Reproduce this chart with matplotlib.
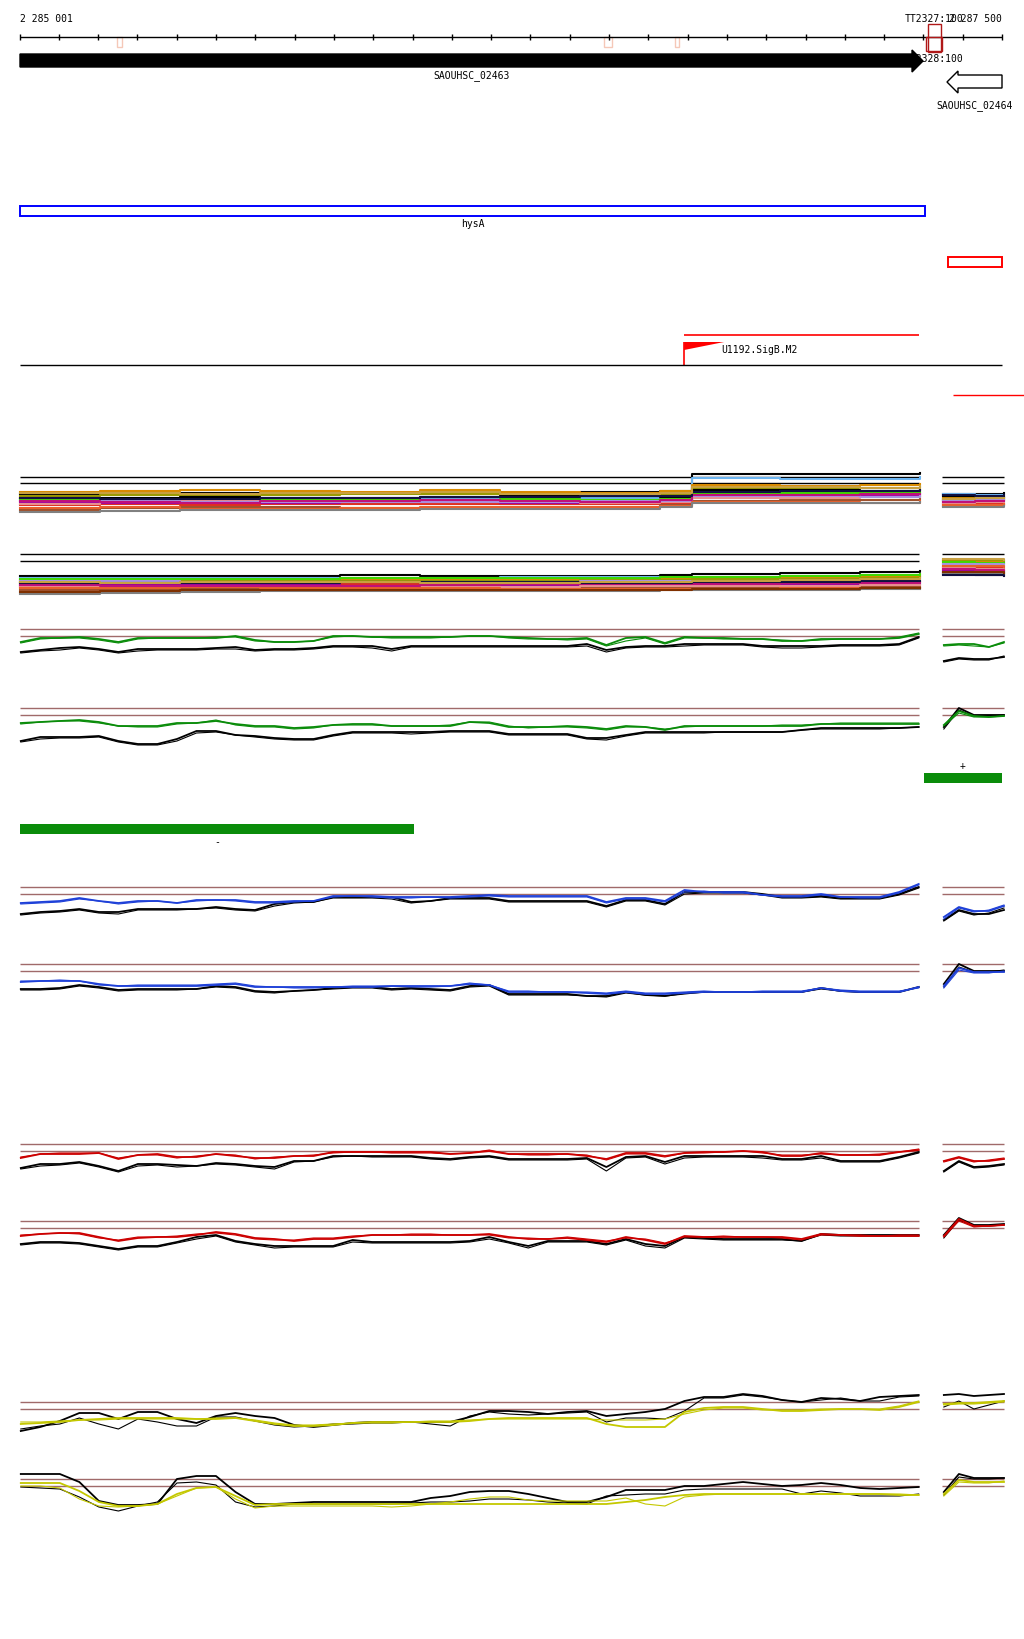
import matplotlib.pyplot as plt
from matplotlib.patches import Rectangle, Polygon
import numpy as np

plt.rcParams['font.family'] = ['DejaVu Sans Mono']

W, H = 1024, 1640
VIEW_START, VIEW_END = 2285001, 2287500
BP_PER_PX = (VIEW_END - VIEW_START) / 982.0
X0 = VIEW_START - 20 * BP_PER_PX
X1 = X0 + W * BP_PER_PX

# ---------------- annotation data ----------------
gene_names = ["SAOUHSC_02463", "SAOUHSC_02464"]
gene_start = [2282790, 2287360]
gene_end = [2287299, 2288150]
gene_strand = ["+", "-"]

cds_name = "hysA"
cds_start, cds_end = 2282790, 2287304

term_names = ["TT2327:100", "TT2328:100"]
term_start = [2287312, 2287307]
term_end = [2287345, 2287348]

mark_start = [2285248, 2286487, 2286668]
mark_end = [2285260, 2286507, 2286678]

promoter_name = "U1192.SigB.M2"
promoter_start, promoter_end = 2286691, 2287289

red_box_start, red_box_end = 2287363, 2287500
red_line_start = 2287376

strand_bar_start = [2287301, 2285001]
strand_bar_end = [2287500, 2286004]
strand_bar_sign = ["+", "-"]

# ---------------- signal data ----------------
# bin centres of the coverage tracks (left block) and the small right block
GRID = np.linspace(2285003, 2287288, 47)
MINI = np.linspace(2287352, 2287505, 5)

# depth below upper threshold line (px-like units, larger = lower)
green1 = [[13, 9, 9, 8, 10, 13, 9, 9, 9, 9, 9, 7, 11, 13, 13, 12, 7, 7, 8, 8, 8, 8, 8, 7, 7, 8, 9, 10, 10, 9, 16, 9, 8, 14, 8, 9, 9, 10, 10, 12, 12, 10, 10, 10, 10, 9, 5],
          [14, 10, 9, 9, 11, 14, 10, 9, 9, 9, 8, 8, 12, 13, 13, 12, 8, 7, 8, 9, 9, 9, 8, 7, 7, 9, 10, 10, 11, 10, 17, 12, 9, 15, 9, 9, 10, 10, 10, 11, 12, 11, 10, 10, 10, 8, 4]]
green1_black = [[23, 21, 19, 18, 20, 23, 20, 20, 20, 20, 19, 18, 21, 20, 20, 19, 17, 17, 17, 20, 17, 17, 17, 17, 17, 17, 17, 17, 17, 15, 21, 18, 17, 17, 15, 15, 15, 15, 17, 17, 17, 17, 16, 16, 16, 15, 8],
                [24, 22, 21, 19, 21, 24, 22, 21, 21, 21, 20, 20, 22, 21, 21, 20, 18, 18, 19, 22, 18, 18, 18, 18, 18, 18, 18, 18, 18, 17, 23, 19, 18, 18, 17, 16, 16, 16, 18, 19, 19, 18, 17, 17, 17, 16, 9]]
green1_mini = [[16, 15, 15, 18, 13], [17, 16, 17, 18, 14]]
green1_mini_black = [[32, 29, 30, 30, 28], [33, 30, 31, 31, 27]]

green2 = [[15, 14, 13, 12, 14, 18, 18, 18, 15, 15, 13, 16, 18, 18, 20, 19, 17, 16, 16, 18, 18, 18, 18, 14, 15, 19, 19, 19, 18, 19, 21, 18, 19, 22, 18, 18, 18, 18, 18, 18, 18, 16, 16, 16, 16, 16, 16],
          [16, 14, 13, 13, 15, 18, 19, 19, 16, 15, 12, 17, 19, 19, 21, 20, 17, 17, 17, 18, 18, 18, 17, 14, 14, 18, 20, 19, 19, 20, 22, 19, 19, 21, 19, 18, 18, 18, 18, 17, 17, 16, 15, 15, 15, 15, 15]]
green2_black = [[33, 29, 29, 29, 28, 33, 36, 36, 31, 23, 23, 27, 28, 30, 31, 31, 27, 24, 24, 24, 24, 24, 23, 23, 23, 26, 26, 26, 26, 30, 30, 27, 24, 24, 24, 24, 24, 24, 24, 24, 22, 20, 20, 20, 20, 20, 19],
                [34, 31, 30, 30, 29, 34, 37, 37, 33, 25, 24, 27, 29, 31, 32, 32, 28, 25, 25, 25, 26, 25, 24, 24, 24, 27, 27, 27, 27, 31, 32, 28, 25, 25, 25, 25, 24, 24, 24, 24, 22, 21, 21, 21, 21, 20, 19]]
green2_mini = [[17, 3, 8, 9, 8], [18, 5, 9, 9, 8]]
green2_mini_black = [[19, 0, 7, 7, 7], [21, 2, 8, 8, 7]]

blue1 = [[16, 15, 14, 11, 14, 16, 14, 14, 16, 13, 13, 13, 15, 15, 14, 14, 9, 9, 9, 10, 10, 10, 10, 9, 8, 9, 9, 9, 9, 9, 15, 11, 11, 14, 3, 5, 5, 5, 8, 9, 9, 7, 10, 10, 10, 5, -3],
         [17, 16, 15, 12, 14, 17, 15, 14, 16, 14, 13, 14, 16, 16, 15, 14, 10, 9, 10, 11, 11, 10, 11, 10, 9, 10, 10, 10, 10, 10, 16, 12, 12, 15, 5, 4, 6, 6, 8, 10, 10, 8, 10, 11, 11, 6, -2]]
blue1_black = [[27, 25, 24, 22, 25, 25, 22, 22, 22, 22, 20, 22, 23, 17, 15, 15, 10, 10, 10, 10, 15, 14, 11, 11, 11, 14, 14, 14, 14, 14, 19, 13, 13, 17, 5, 5, 5, 5, 7, 10, 10, 9, 11, 11, 11, 7, 0],
               [28, 26, 25, 23, 26, 27, 23, 23, 23, 22, 21, 23, 24, 19, 16, 15, 11, 11, 11, 12, 16, 14, 12, 12, 12, 15, 15, 15, 15, 15, 20, 14, 14, 18, 7, 6, 6, 6, 8, 11, 11, 10, 12, 12, 12, 8, 1]]
blue1_mini = [[30, 20, 24, 24, 19], [32, 21, 25, 23, 18]]
blue1_mini_black = [[33, 23, 27, 27, 23], [34, 24, 28, 26, 21]]

blue2 = [[18, 17, 17, 17, 20, 22, 22, 22, 22, 22, 21, 20, 23, 23, 23, 23, 23, 23, 23, 22, 22, 22, 22, 20, 21, 28, 28, 28, 28, 29, 30, 28, 30, 30, 29, 28, 28, 28, 28, 28, 28, 24, 27, 28, 28, 28, 23],
         [17, 17, 16, 17, 21, 22, 21, 21, 21, 21, 20, 19, 22, 23, 24, 24, 23, 22, 22, 22, 23, 23, 22, 19, 21, 27, 27, 28, 28, 28, 29, 27, 29, 29, 28, 27, 28, 28, 27, 27, 27, 24, 26, 27, 27, 27, 24]]
blue2_black = [[25, 25, 24, 21, 23, 26, 25, 25, 25, 25, 22, 23, 27, 28, 27, 26, 24, 23, 23, 25, 24, 25, 26, 22, 21, 30, 30, 30, 30, 32, 32, 28, 31, 32, 29, 28, 28, 28, 28, 28, 28, 24, 27, 28, 28, 28, 23],
               [26, 26, 25, 22, 24, 27, 26, 26, 26, 25, 23, 24, 28, 29, 27, 26, 25, 24, 24, 26, 25, 26, 27, 23, 22, 31, 31, 31, 31, 32, 33, 29, 31, 32, 30, 28, 28, 28, 28, 28, 28, 25, 27, 28, 28, 28, 23]]
blue2_mini = [[22, 4, 8, 8, 8], [24, 6, 9, 9, 7]]
blue2_mini_black = [[20, 0, 7, 7, 7], [23, 3, 8, 8, 6]]

red1 = [[14, 10, 10, 10, 9, 15, 11, 10, 13, 13, 10, 12, 14, 14, 12, 12, 8, 8, 8, 8, 8, 8, 10, 9, 7, 10, 10, 10, 10, 12, 15, 9, 9, 12, 9, 8, 8, 7, 8, 12, 12, 9, 11, 11, 11, 8, 6],
        [13, 10, 9, 9, 9, 14, 11, 11, 14, 12, 10, 11, 15, 13, 12, 11, 9, 8, 8, 9, 9, 9, 10, 9, 6, 10, 11, 11, 10, 11, 16, 10, 10, 13, 9, 9, 8, 7, 9, 11, 11, 10, 11, 11, 10, 8, 5]]
red1_black = [[24, 20, 20, 18, 22, 27, 20, 20, 21, 22, 19, 20, 22, 23, 17, 17, 12, 12, 12, 12, 12, 14, 15, 13, 12, 15, 15, 15, 15, 14, 23, 13, 12, 18, 12, 12, 12, 12, 12, 15, 15, 12, 17, 17, 17, 13, 8],
              [25, 22, 21, 19, 23, 28, 22, 21, 23, 22, 20, 21, 23, 25, 18, 17, 13, 12, 13, 13, 13, 15, 16, 14, 13, 16, 16, 16, 16, 15, 27, 14, 13, 20, 14, 13, 13, 13, 14, 16, 16, 14, 18, 18, 18, 14, 9]]
red1_mini = [[17, 13, 17, 17, 15], [18, 14, 18, 16, 14]]
red1_mini_black = [[27, 17, 23, 22, 20], [28, 18, 24, 23, 21]]

red2 = [[15, 13, 12, 12, 16, 20, 17, 16, 16, 14, 11, 13, 17, 18, 20, 18, 18, 16, 14, 14, 14, 14, 14, 14, 13, 16, 18, 18, 17, 19, 21, 16, 19, 23, 15, 16, 16, 16, 16, 16, 18, 13, 14, 15, 15, 15, 15],
        [14, 13, 12, 13, 17, 19, 16, 16, 15, 13, 12, 14, 18, 19, 19, 17, 17, 15, 14, 14, 13, 13, 14, 14, 14, 17, 17, 18, 16, 18, 20, 17, 18, 22, 16, 16, 15, 16, 16, 17, 19, 14, 14, 14, 15, 14, 14]]
red2_black = [[23, 21, 21, 22, 25, 28, 25, 25, 21, 16, 14, 20, 23, 25, 25, 25, 25, 19, 21, 21, 21, 21, 21, 20, 16, 21, 25, 20, 20, 20, 23, 18, 23, 25, 16, 17, 18, 18, 18, 18, 20, 13, 14, 14, 14, 14, 14],
              [24, 22, 22, 23, 26, 29, 26, 26, 22, 18, 15, 21, 24, 27, 26, 26, 26, 21, 22, 22, 22, 22, 22, 21, 18, 22, 27, 21, 21, 21, 24, 19, 25, 27, 17, 18, 19, 19, 19, 19, 20, 14, 15, 15, 15, 15, 15]]
red2_mini = [[15, -2, 5, 5, 4], [16, 0, 6, 5, 4]]
red2_mini_black = [[14, -3, 4, 4, 3], [17, -1, 5, 5, 4]]

yellow1 = [[22, 21, 20, 18, 17, 16, 16, 16, 16, 17, 17, 16, 19, 22, 24, 24, 23, 21, 20, 20, 20, 20, 20, 19, 17, 16, 16, 16, 16, 16, 22, 25, 25, 25, 10, 6, 5, 5, 7, 9, 9, 8, 7, 7, 8, 5, 0],
           [20, 20, 19, 18, 18, 17, 17, 17, 17, 17, 16, 16, 18, 21, 23, 23, 22, 21, 21, 21, 20, 19, 19, 18, 17, 17, 17, 17, 17, 17, 18, 18, 18, 17, 12, 8, 6, 6, 8, 8, 8, 7, 7, 7, 7, 4, -1]]
yellow1_black = [[29, 25, 19, 11, 11, 17, 10, 10, 17, 21, 14, 11, 14, 16, 23, 25, 23, 21, 20, 20, 20, 20, 20, 15, 9, 9, 10, 12, 10, 9, 14, 12, 10, 7, -1, -5, -5, -8, -6, -2, 0, -4, -3, -1, -5, -6, -7],
                 [27, 24, 22, 16, 22, 27, 17, 20, 24, 24, 15, 15, 19, 23, 25, 24, 22, 22, 21, 21, 20, 22, 24, 14, 10, 12, 13, 12, 11, 10, 20, 16, 16, 17, 9, -4, -4, -7, -5, -2, 0, -2, -4, -1, -1, -5, -6]]
yellow1_mini = [[2, 1, 1, 0, -1], [3, 2, 2, 1, 0]]
yellow1_mini_black = [[-7, -8, -6, -7, -8], [5, -1, 7, 3, -1]]

yellow2 = [[4, 4, 4, 12, 23, 27, 27, 25, 15, 9, 8, 17, 26, 25, 25, 25, 25, 25, 25, 25, 25, 25, 25, 25, 25, 25, 25, 25, 25, 25, 25, 23, 21, 18, 16, 15, 15, 15, 15, 15, 15, 15, 15, 15, 15, 16, 16],
           [7, 7, 9, 20, 27, 28, 27, 25, 17, 9, 8, 20, 29, 27, 27, 27, 27, 27, 27, 28, 27, 25, 23, 20, 18, 18, 21, 22, 22, 22, 22, 19, 25, 27, 18, 16, 15, 15, 15, 15, 15, 15, 15, 15, 15, 15, 16]]
yellow2_black = [[-5, -5, -5, 3, 22, 26, 26, 25, 0, -3, -3, 13, 25, 25, 24, 23, 23, 23, 23, 23, 23, 19, 17, 13, 12, 12, 15, 19, 23, 23, 18, 11, 11, 11, 7, 7, 5, 3, 5, 7, 6, 4, 6, 9, 10, 9, 8],
                 [8, 9, 10, 18, 28, 32, 27, 23, 4, 3, 6, 23, 28, 27, 25, 25, 25, 25, 25, 25, 24, 23, 23, 22, 20, 20, 21, 23, 24, 25, 17, 16, 15, 15, 11, 10, 10, 10, 10, 10, 15, 12, 14, 17, 17, 17, 15]]
yellow2_mini = [[15, 1, 3, 3, 3], [17, 3, 4, 4, 2]]
yellow2_mini_black = [[13, -5, -1, -1, -1], [16, -2, 0, 0, -1]]

# multi-sample tracks: step values on coarse windows
COARSE = [2285001, 2285205, 2285408, 2285612, 2285815, 2286019, 2286222,
          2286426, 2286630, 2286711, 2286935, 2287139, 2287291]
COARSE_MINI = [2287350, 2287431, 2287505]

band1_colours = ['#000000', '#6cb4f0', '#d98b00', '#9a9a00', '#000000', '#e03020',
                 '#a000a0', '#40d800', '#a0522d', '#e89090', '#a890e0', '#e8602c',
                 '#808080', '#c0107a', '#101040', '#c8a040']
band1 = [[17, 16, 16, 16, 16, 16, 17, 15, 14, -3, -3, -3, -4],
         [23, 22, 23, 23, 22, 22, 23, 21, 20, 1, 2, 2, 0],
         [15, 14, 13, 14, 15, 13, 15, 16, 14, 8, 9, 8, 7],
         [19, 18, 19, 18, 17, 17, 18, 18, 17, 11, 12, 11, 10],
         [21, 21, 20, 21, 21, 20, 19, 19, 20, 13, 13, 14, 13],
         [28, 27, 28, 27, 27, 27, 27, 27, 26, 20, 20, 19, 19],
         [25, 26, 25, 26, 25, 24, 26, 25, 24, 18, 17, 18, 16],
         [22, 23, 24, 23, 23, 24, 22, 23, 22, 16, 16, 15, 15],
         [33, 31, 30, 30, 31, 31, 30, 31, 28, 24, 23, 23, 22],
         [27, 25, 24, 24, 24, 25, 24, 26, 25, 21, 21, 20, 20],
         [24, 24, 25, 25, 25, 25, 25, 24, 24, 19, 19, 20, 18],
         [31, 30, 32, 32, 31, 30, 30, 30, 29, 25, 25, 26, 24],
         [35, 34, 33, 33, 33, 32, 32, 32, 30, 26, 26, 26, 25],
         [24, 25, 26, 24, 24, 23, 24, 25, 23, 18, 18, 17, 17],
         [21, 22, 22, 21, 21, 20, 20, 19, 19, 15, 14, 14, 13],
         [16, 16, 17, 16, 16, 15, 17, 17, 16, 10, 10, 11, 9]]
band1_mini = [[17, 17, 16], [17, 18, 18], [21, 20, 20], [22, 22, 21], [19, 20, 20],
              [27, 27, 27], [24, 24, 23], [23, 22, 22], [29, 29, 28], [26, 25, 25],
              [23, 23, 23], [28, 28, 27], [30, 30, 29], [25, 24, 24], [18, 19, 18],
              [22, 21, 21]]

band2_colours = ['#000000', '#6cb4f0', '#d98b00', '#9a9a00', '#e03020', '#a000a0',
                 '#40d800', '#a0522d', '#e89090', '#a890e0', '#e8602c', '#808080',
                 '#c0107a', '#101040', '#c8a040', '#803000']
band2 = [[22, 22, 22, 22, 21, 22, 22, 22, 21, 20, 19, 18, 17],
         [24, 24, 24, 24, 25, 24, 23, 23, 24, 23, 22, 21, 21],
         [26, 27, 27, 26, 26, 26, 26, 25, 25, 25, 24, 23, 22],
         [28, 28, 27, 27, 27, 27, 27, 26, 26, 25, 25, 24, 23],
         [30, 30, 30, 31, 30, 30, 30, 30, 30, 29, 29, 28, 28],
         [32, 31, 31, 31, 32, 32, 31, 31, 32, 31, 31, 30, 30],
         [25, 25, 25, 25, 24, 24, 24, 24, 23, 23, 22, 21, 20],
         [36, 36, 35, 35, 35, 35, 34, 34, 34, 33, 33, 33, 33],
         [33, 33, 32, 33, 33, 33, 33, 32, 32, 32, 32, 31, 31],
         [27, 27, 28, 28, 28, 28, 28, 27, 27, 27, 26, 26, 25],
         [34, 34, 33, 34, 34, 34, 35, 35, 35, 35, 34, 34, 34],
         [40, 39, 38, 37, 37, 37, 37, 37, 36, 36, 36, 35, 35],
         [31, 32, 32, 32, 32, 31, 30, 30, 30, 30, 29, 29, 28],
         [29, 29, 29, 29, 28, 28, 28, 29, 29, 28, 28, 27, 27],
         [28, 29, 28, 28, 28, 29, 29, 28, 28, 27, 26, 25, 24],
         [38, 37, 36, 36, 36, 36, 36, 36, 36, 35, 35, 34, 34]]
band2_mini = [[20, 21, 21], [10, 11, 12], [7, 8, 9], [6, 6, 7], [13, 14, 16], [16, 17, 18],
              [8, 9, 9], [18, 19, 19], [14, 15, 16], [10, 10, 11], [12, 12, 13], [19, 20, 20],
              [15, 16, 17], [21, 21, 22], [5, 5, 6], [18, 18, 19]]

BROWN = '#a06a6a'
GREEN = '#0a8c0a'
BLUE = '#1e40d8'
RED = '#cc0000'
YELLOW = '#c4c800'

fig = plt.figure(figsize=(W / 100, H / 100), dpi=100)
fig.patch.set_facecolor('white')
ax = fig.add_axes([0, 0, 1, 1])
ax.set_xlim(X0, X1)
ax.set_ylim(H, 0)
ax.axis('off')

# ruler
ax.hlines(38, VIEW_START, VIEW_END, color='black', lw=1)
ticks = [VIEW_START] + list(range(2285100, VIEW_END + 1, 100))
ax.vlines(ticks, 35, 41, color='black', lw=1)
ax.text(VIEW_START, 19, "2 285 001", fontsize=7, ha='left', va='center')
ax.text(VIEW_END, 19, "2 287 500", fontsize=7, ha='right', va='center')
for s, e in zip(mark_start, mark_end):
    ax.add_patch(Rectangle((s, 38), e - s, 10, fill=False, edgecolor='#f5c8b8', lw=1))

# terminators (drawn under the gene arrow)
for name, s, e, r0, h, ty in zip(term_names, term_start, term_end, [25, 38], [28, 14], [19, 59]):
    ax.add_patch(Rectangle((s, r0), e - s, h, fill=False, edgecolor='#b01818', lw=1, zorder=2))
    ax.text((s + e) / 2, ty, name, fontsize=7, ha='center', va='center', zorder=2)

# genes
head = 11 * BP_PER_PX
for name, s, e, strand in zip(gene_names, gene_start, gene_end, gene_strand):
    s_v, e_v = max(s, VIEW_START), min(e, VIEW_END)
    if strand == "+":
        pts = [(s_v, 55), (e_v - head, 55), (e_v - head, 51), (e_v, 62),
               (e_v - head, 73), (e_v - head, 68), (s_v, 68)]
        ax.add_patch(Polygon(pts, closed=True, facecolor='black', edgecolor='black', lw=1, zorder=3))
        ax.text((s_v + e_v) / 2, 76, name, fontsize=7, ha='center', va='center')
    else:
        pts = [(s_v, 83), (s_v + head, 72), (s_v + head, 76), (e_v, 76),
               (e_v, 89), (s_v + head, 89), (s_v + head, 94)]
        ax.add_patch(Polygon(pts, closed=True, facecolor='white', edgecolor='black', lw=1, zorder=3))
        ax.text((s_v + e_v) / 2, 106, name, fontsize=7, ha='center', va='center')

# CDS box
s_v, e_v = max(cds_start, VIEW_START), min(cds_end, VIEW_END)
ax.add_patch(Rectangle((s_v, 207), e_v - s_v, 10, fill=False, edgecolor='#0000ff', lw=1.4))
ax.text((s_v + e_v) / 2, 224, cds_name, fontsize=7, ha='center', va='center')

ax.add_patch(Rectangle((red_box_start, 258), red_box_end - red_box_start, 10,
                       fill=False, edgecolor='#ff0000', lw=1.4))

# promoter
ax.hlines(336, promoter_start, promoter_end, color='#ff0000', lw=1.2)
ax.vlines(promoter_start, 343, 366, color='#ff0000', lw=1.2)
flag_len = 40 * BP_PER_PX
ax.add_patch(Polygon([(promoter_start, 343), (promoter_start + flag_len, 343),
                      (promoter_start, 351)], closed=True, facecolor='#ff0000', edgecolor='none'))
ax.text(promoter_start + 37 * BP_PER_PX, 350, promoter_name, fontsize=7, ha='left', va='center')
ax.hlines(366, VIEW_START, VIEW_END, color='black', lw=1)
ax.hlines(396, red_line_start, X1, color='#ff0000', lw=1)

# strand bars
for s, e, sign, row, trow in zip(strand_bar_start, strand_bar_end, strand_bar_sign, [774, 825], [766, 842]):
    ax.add_patch(Rectangle((s, row), e - s, 10, facecolor=GREEN, edgecolor='none'))
    ax.text((s + e) / 2, trow, sign, fontsize=7, ha='center', va='center')


def panel(top_row, thresholds, thr_colour):
    a = fig.add_axes([0, 1 - (top_row + 50) / H, 1, 70 / H])
    a.set_xlim(X0, X1)
    a.set_ylim(50, -20)
    a.axis('off')
    a.patch.set_alpha(0)
    for d in thresholds:
        a.hlines(d, GRID[0] - 2, GRID[-1] + 2, color=thr_colour, lw=1)
        a.hlines(d, MINI[0] - 5, MINI[-1], color=thr_colour, lw=1)
    return a


def signal(top_row, col, vals, mini, black, mini_black):
    a = panel(top_row, [0, 7], BROWN)
    for v, m, lw in zip(black, mini_black, [1.3, 0.8]):
        a.plot(GRID, v, color='black', lw=lw)
        a.plot(MINI, m, color='black', lw=lw)
    for v, m, lw in zip(vals, mini, [1.3, 0.8]):
        a.plot(GRID, v, color=col, lw=lw)
        a.plot(MINI, m, color=col, lw=lw)


def band(top_row, thresholds, colours, vals, mini):
    a = panel(top_row, thresholds, 'black')
    for c, v, m in zip(colours, vals, mini):
        a.step(COARSE, v, where='post', color=c, lw=1.5)
        a.step(COARSE_MINI, m, where='post', color=c, lw=1.5)


band(478, [0, 6], band1_colours, band1, band1_mini)
band(555, [0, 7], band2_colours, band2, band2_mini)
signal(630, GREEN, green1, green1_mini, green1_black, green1_mini_black)
signal(709, GREEN, green2, green2_mini, green2_black, green2_mini_black)
signal(888, BLUE, blue1, blue1_mini, blue1_black, blue1_mini_black)
signal(965, BLUE, blue2, blue2_mini, blue2_black, blue2_mini_black)
signal(1145, RED, red1, red1_mini, red1_black, red1_mini_black)
signal(1222, RED, red2, red2_mini, red2_black, red2_mini_black)
signal(1403, YELLOW, yellow1, yellow1_mini, yellow1_black, yellow1_mini_black)
signal(1480, YELLOW, yellow2, yellow2_mini, yellow2_black, yellow2_mini_black)

fig.savefig("out.png", dpi=100)
